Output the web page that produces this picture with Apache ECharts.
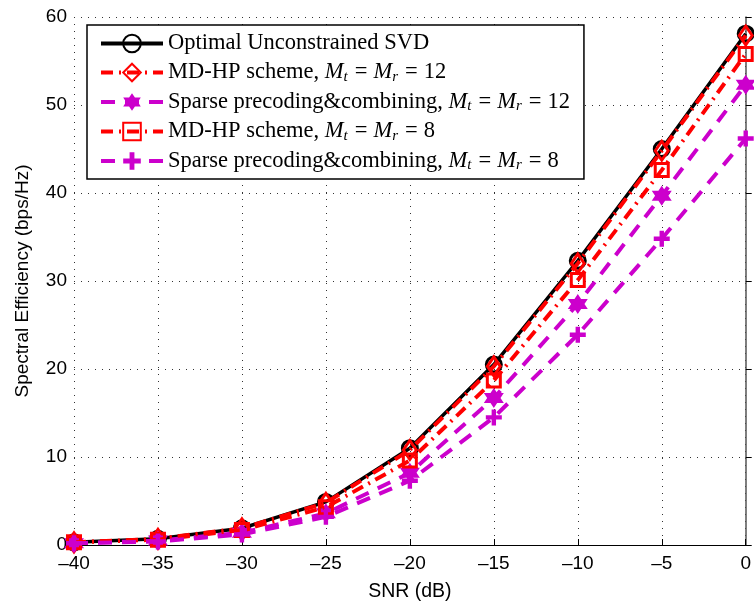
<!DOCTYPE html>
<html><head><meta charset="utf-8">
<script src="https://cdn.jsdelivr.net/npm/echarts@6/dist/echarts.min.js"></script>
<style>html,body{margin:0;padding:0;background:#fff}#c{width:754px;height:607px}</style>
</head><body><div id="c"></div>
<script>
const snr = [-40, -35, -30, -25, -20, -15, -10, -5, 0];
const optimalSVD = [0.3, 0.7, 1.9, 4.9, 11.0, 20.5, 32.3, 45.0, 58.1];
const mdhp12 = [0.3, 0.7, 1.9, 4.8, 10.8, 20.3, 32.0, 44.8, 57.9];
const sparse12 = [0.2, 0.5, 1.4, 3.6, 8.2, 16.7, 27.4, 39.7, 52.3];
const mdhp8 = [0.3, 0.6, 1.7, 4.3, 9.6, 18.7, 30.1, 42.6, 55.8];
const sparse8 = [0.2, 0.4, 1.2, 3.2, 7.3, 14.5, 23.9, 34.8, 46.2];
const seriesNames = [
  'Optimal Unconstrained SVD',
  'MD-HP scheme, {it|M}{sub|t}{eq|=}{it|M}{sub|r}{eq|=}12',
  'Sparse precoding&combining, {it|M}{sub|t}{eq|=}{it|M}{sub|r}{eq|=}12',
  'MD-HP scheme, {it|M}{sub|t}{eq|=}{it|M}{sub|r}{eq|=}8',
  'Sparse precoding&combining, {it|M}{sub|t}{eq|=}{it|M}{sub|r}{eq|=}8'
];
const xTicks = [-40, -35, -30, -25, -20, -15, -10, -5, 0];
const yTicks = [0, 10, 20, 30, 40, 50, 60];

const RED = '#ff0000', MAG = '#cc00cc';
const hexagram = 'path://M0,-10L2.887,-5L8.66,-5L5.774,0L8.66,5L2.887,5L0,10L-2.887,5L-8.66,5L-5.774,0L-8.66,-5L-2.887,-5Z';
const plus = 'path://M-2.2,-8L2.2,-8L2.2,-2.2L8,-2.2L8,2.2L2.2,2.2L2.2,8L-2.2,8L-2.2,2.2L-8,2.2L-8,-2.2L-2.2,-2.2Z';
const pair = a => snr.map((x, i) => [x, a[i]]);
const DASHDOT = [12, 6, 2, 6], DASH = [14, 10];

function mk(name, data, color, type, width, symbol, size, hollow, z) {
  return {
    name, type: 'line', data: pair(data), z,
    symbol, symbolSize: size, showSymbol: true,
    lineStyle: { color, width, type },
    itemStyle: hollow ? { color: 'rgba(255,255,255,0)', borderColor: color, borderWidth: 3 }
                      : { color, borderColor: color, borderWidth: 0 },
    emphasis: { disabled: true }, animation: false
  };
}
function leg(name, color, type, width) {
  return { name, lineStyle: { color, type, width } };
}

const chart = echarts.init(document.getElementById('c'), null, { renderer: 'canvas' });
chart.setOption({
  animation: false,
  grid: { left: 74, right: 4, top: 17, bottom: 58, containLabel: false },
  xAxis: {
    type: 'value', min: -40, max: 0, interval: 5,
    name: 'SNR (dB)', nameLocation: 'middle', nameGap: 37,
    nameTextStyle: { fontFamily: 'Liberation Sans', fontSize: 19.5, color: '#000' },
    axisLine: { show: true, lineStyle: { color: '#000', width: 1 } },
    axisTick: { show: true, inside: true, length: 6, lineStyle: { color: '#000' } },
    axisLabel: { fontFamily: 'Liberation Sans', fontSize: 19, color: '#000', margin: 9,
      formatter: v => xTicks.includes(v) ? String(v).replace('-', '\u2013') : '' },
    splitLine: { show: true, lineStyle: { color: '#333', type: [1, 6], width: 1 } }
  },
  yAxis: {
    type: 'value', min: 0, max: 60, interval: 10,
    name: 'Spectral Efficiency (bps/Hz)', nameLocation: 'middle', nameGap: 42,
    nameTextStyle: { fontFamily: 'Liberation Sans', fontSize: 19, color: '#000' },
    axisLine: { show: true, lineStyle: { color: '#555', width: 1.5 } },
    axisTick: { show: true, inside: true, length: 6, lineStyle: { color: '#000' } },
    axisLabel: { fontFamily: 'Liberation Sans', fontSize: 19, color: '#000', margin: 7,
      formatter: v => yTicks.includes(v) ? String(v) : '' },
    splitLine: { show: true, lineStyle: { color: '#333', type: [1, 6], width: 1 } }
  },
  legend: {
    show: true, orient: 'vertical', left: 87, top: 25,
    backgroundColor: '#fff', borderColor: '#000', borderWidth: 1.5,
    padding: [7, 14, 6, 12], itemGap: 6, itemWidth: 62, itemHeight: 22,
    selectedMode: false,
    data: [
      leg(seriesNames[0], '#000', 'solid', 4),
      leg(seriesNames[1], RED, DASHDOT, 4),
      leg(seriesNames[2], MAG, DASH, 4),
      leg(seriesNames[3], RED, DASHDOT, 4),
      leg(seriesNames[4], MAG, DASH, 4)
    ],
    textStyle: {
      fontFamily: 'Liberation Serif', fontSize: 22.5, color: '#000',
      rich: {
        it: { fontFamily: 'Liberation Serif', fontStyle: 'italic', fontSize: 22.5, color: '#000' },
        sub: { fontFamily: 'Liberation Serif', fontStyle: 'italic', fontSize: 15, color: '#000', padding: [9, 1, 0, 0] },
        eq: { fontFamily: 'Liberation Serif', fontSize: 22.5, color: '#000', padding: [0, 6, 0, 6] }
      }
    }
  },
  series: [
    mk(seriesNames[0], optimalSVD, '#000', 'solid', 3.5, 'circle', 15, true, 2),
    mk(seriesNames[1], mdhp12, RED, DASHDOT, 4, 'diamond', [13, 19], true, 3),
    mk(seriesNames[2], sparse12, MAG, DASH, 4, hexagram, 20, false, 4),
    mk(seriesNames[3], mdhp8, RED, DASHDOT, 4, 'rect', 13, true, 5),
    mk(seriesNames[4], sparse8, MAG, DASH, 4, plus, 16, false, 6)
  ]
});
</script></body></html>
